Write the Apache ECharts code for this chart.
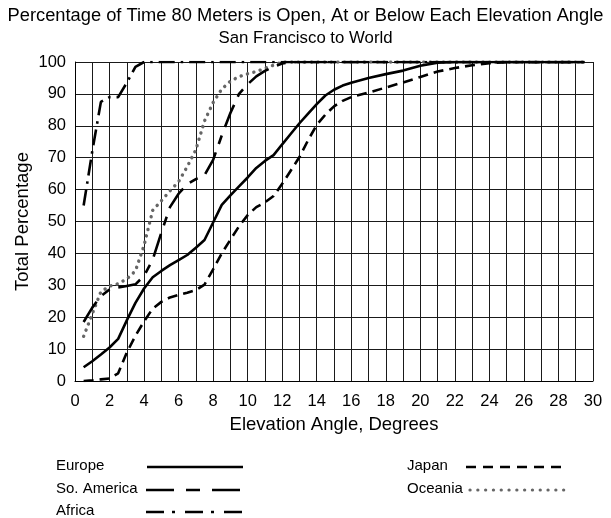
<!DOCTYPE html>
<html>
<head>
<meta charset="utf-8">
<script src="https://cdn.jsdelivr.net/npm/echarts@6/dist/echarts.min.js"></script>
<style>
html,body{margin:0;padding:0;background:#fff;}
#chart{width:611px;height:518px;}
</style>
</head>
<body>
<div id="chart"></div>
<script>
var titleLines = ["Percentage of Time 80 Meters is Open, At or Below Each Elevation Angle", "San Francisco to World"];
var xAxisName = "Elevation Angle, Degrees";
var yAxisName = "Total Percentage";
var seriesNames = ["Europe", "So. America", "Africa", "Japan", "Oceania"];

var angles = [0.5,1,1.5,2,2.5,3,3.5,4,4.5,5,5.5,6,6.5,7,7.5,8,8.5,9,9.5,10,10.5,11,11.5,12,12.5,13,13.5,14,14.5,15,15.5,16,17,18,19,20,21,22,23,24,25,26,27,28,29,29.5];

var europe = [4.3,6.2,8.3,10.5,13.2,19,24.5,29,32.5,34.5,36.3,37.9,39.5,41.8,44.2,49.7,55.2,58.2,61,63.8,66.8,69,70.8,74.2,77.5,80.8,83.8,86.8,89.5,91.3,92.6,93.5,95,96.2,97.3,98.8,99.8,100,100,100,100,100,100,100,100,100];
var soAmerica = [18.5,23,26.6,28.7,29.3,29.8,30.3,33,38,46.5,54.5,58.7,61.7,63.3,64.5,69.3,77,84,90,93,95.5,97.2,98.5,99.5,100,100,100,100,100,100,100,100,100,100,100,100,100,100,100,100,100,100,100,100,100,100];
var africa = [55,72,87.5,89,89,93.5,98.5,100,100,100,100,100,100,100,100,100,100,100,100,100,100,100,100,100,100,100,100,100,100,100,100,100,100,100,100,100,100,100,100,100,100,100,100,100,100,100];
var japan = [0,0.2,0.5,0.8,2.4,8.9,14.2,18.7,22.7,24.8,26.2,27,27.7,28.5,30.2,35,40,44.3,48.5,52,54.5,56,58,61.8,66,70.2,75.5,80.3,83.5,86.1,87.8,89,90.4,92,93.6,95.3,97,98.1,99,99.6,100,100,100,100,100,100];
var oceania = [14,21,28,29.7,30.5,32,34.5,42.5,53.5,56.5,59.6,62.5,67.2,72.5,81.5,87.3,91.5,94,95.4,96.3,97,98,99,100,100,100,100,100,100,100,100,100,100,100,100,100,100,100,100,100,100,100,100,100,100,100];

function pairs(vals){ return angles.map(function(a,i){ return [a, vals[i]]; }); }

var FONT = '"Liberation Sans", Arial, sans-serif';
var styles = [
  {color:'#000', width:2.6, type:'solid'},
  {color:'#000', width:2.6, type:[24,9,9,9]},
  {color:'#000', width:2.6, type:[16,6,2.5,6]},
  {color:'#000', width:2.6, type:[10,6]},
  {color:'#666', width:3.4, type:[0.1,6.5], cap:'round'}
];
var datasets = [europe, soAmerica, africa, japan, oceania];

var series = datasets.map(function(d, i){
  var s = styles[i];
  return {
    name: seriesNames[i], type:'line', data: pairs(d), showSymbol:false, symbol:'none',
    lineStyle:{color:s.color, width:s.width, type:s.type, cap:s.cap || 'butt'},
    z: 3 + (4 - i), animation:false
  };
});

var legendPos = [
  {tx:56, y:467, x1:147, x2:243},
  {tx:56, y:490, x1:146, x2:243},
  {tx:56, y:512, x1:146, x2:243},
  {tx:407, y:467, x1:466, x2:568},
  {tx:407, y:490, x1:470, x2:566}
];
var legendDash = [null, [28,12,14,12], [18,8,3,10], [10,7], [0.1,7.7]];
var graphics = [];
seriesNames.forEach(function(n, i){
  var p = legendPos[i];
  graphics.push({type:'text', left:p.tx, top:p.y-9, style:{text:n, font:'15px ' + FONT, fill:'#000'}});
  graphics.push({type:'line', shape:{x1:p.x1, y1:p.y, x2:p.x2, y2:p.y},
    style:{stroke:styles[i].color, lineWidth:i===4?3.2:2.6, lineDash:legendDash[i], lineCap:i===4?'round':'butt'}});
});

var chart = echarts.init(document.getElementById('chart'), null, {renderer:'canvas'});
chart.setOption({
  animation:false,
  backgroundColor:'#fff',
  title:{
    text: titleLines[0], subtext: titleLines[1], left:'center', top:2, itemGap:5,
    textStyle:{fontFamily:FONT, fontWeight:'normal', fontSize:18.3, color:'#000'},
    subtextStyle:{fontFamily:FONT, fontWeight:'normal', fontSize:16.8, color:'#000'}
  },
  grid:{left:75, right:18, top:62, bottom:137},
  xAxis:{
    type:'value', min:0, max:30, interval:1,
    name:xAxisName, nameLocation:'middle', nameGap:34,
    nameTextStyle:{fontFamily:FONT, fontSize:18.5, color:'#000'},
    axisLine:{show:true, lineStyle:{color:'#000', width:1}},
    axisTick:{show:false},
    axisLabel:{fontFamily:FONT, fontSize:16.5, color:'#000', margin:12,
      formatter:function(v){ return (v % 2 === 0) ? String(v) : ''; }},
    splitLine:{show:true, lineStyle:{color:'#1a1a1a', width:1}}
  },
  yAxis:{
    type:'value', min:0, max:100, interval:10,
    name:yAxisName, nameLocation:'middle', nameGap:43, nameRotate:90, nameMoveOverlap:false,
    nameTextStyle:{fontFamily:FONT, fontSize:18.5, color:'#000'},
    axisLine:{show:true, lineStyle:{color:'#000', width:1}},
    axisTick:{show:false},
    axisLabel:{fontFamily:FONT, fontSize:16.5, color:'#000', margin:9},
    splitLine:{show:true, lineStyle:{color:'#1a1a1a', width:1}}
  },
  graphic: graphics,
  series: series
});
</script>
</body>
</html>
